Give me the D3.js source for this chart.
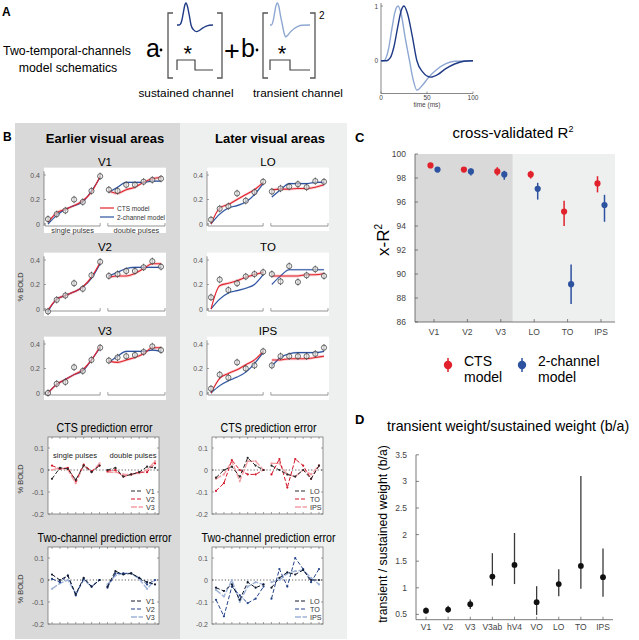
<!DOCTYPE html>
<html><head><meta charset="utf-8">
<script src="https://cdn.jsdelivr.net/npm/d3@7"></script>
<style>body{margin:0;background:#fff} svg{display:block}</style>
</head><body><svg id="fig" width="639" height="640"></svg>
<script>
// ---------------- DATA ----------------
// Panel A: impulse response functions (time in ms, normalized amplitude)
const irfSustT = [0,6,10,14,18,22,25,29,34,39,45,54,62,70,80,90,100];
const irfSustV = [0,0,0.05,0.25,0.6,0.92,1.0,0.85,0.45,0,-0.2,-0.3,-0.25,-0.15,-0.06,-0.01,0];
const irfTransT = [0,3,8,12,15,18.5,22,26,31,35,39,45,52,60,70,80,100];
const irfTransV = [0,0,0.2,0.6,0.88,1.0,0.85,0.45,0,-0.35,-0.54,-0.45,-0.3,-0.17,-0.06,-0.01,0];
const pulseT = [0,0,50,50,100];
const pulseV = [0,1,1,0,0];

// Panel B: BOLD amplitude, 7 single-pulse + 7 double-pulse conditions
const dataV1 = [0.04,0.08,0.11,0.20,0.18,0.27,0.39, 0.28,0.27,0.32,0.32,0.345,0.36,0.37];
const ctsV1  = [0.015,0.09,0.12,0.15,0.19,0.26,0.39, 0.27,0.25,0.28,0.30,0.34,0.37,0.38];
const twoV1  = [0.0,0.07,0.12,0.15,0.18,0.27,0.38, 0.26,0.30,0.34,0.34,0.34,0.35,0.35];
const dataV2 = [-0.02,0.075,0.11,0.21,0.165,0.275,0.385, 0.27,0.285,0.31,0.31,0.34,0.39,0.345];
const ctsV2  = [-0.01,0.08,0.11,0.14,0.18,0.26,0.38, 0.26,0.27,0.27,0.29,0.33,0.37,0.37];
const twoV2  = [-0.02,0.08,0.11,0.14,0.18,0.25,0.37, 0.27,0.30,0.33,0.34,0.34,0.34,0.34];
const dataV3 = [0.0,0.075,0.09,0.21,0.18,0.27,0.37, 0.265,0.29,0.30,0.31,0.335,0.38,0.35];
const ctsV3  = [0.0,0.07,0.11,0.15,0.19,0.27,0.38, 0.26,0.25,0.27,0.29,0.32,0.37,0.37];
const twoV3  = [0.0,0.07,0.11,0.15,0.18,0.27,0.37, 0.25,0.30,0.34,0.34,0.34,0.35,0.34];
const dataLO = [0.035,0.125,0.145,0.25,0.19,0.26,0.345, 0.265,0.29,0.305,0.325,0.30,0.35,0.345];
const ctsLO  = [0.0,0.13,0.16,0.20,0.24,0.28,0.34, 0.28,0.285,0.285,0.29,0.29,0.30,0.32];
const twoLO  = [0.0,0.08,0.13,0.15,0.18,0.24,0.33, 0.22,0.28,0.33,0.33,0.33,0.34,0.34];
const dataTO = [0.095,0.24,0.155,0.21,0.265,0.285,0.30, 0.285,0.225,0.35,0.22,0.275,0.325,0.27];
const ctsTO  = [0.0,0.19,0.21,0.23,0.26,0.28,0.30, 0.27,0.27,0.27,0.27,0.28,0.28,0.29];
const twoTO  = [0.0,0.08,0.13,0.15,0.17,0.20,0.28, 0.20,0.27,0.32,0.32,0.32,0.32,0.32];
const dataIPS = [0.035,0.15,0.125,0.25,0.20,0.225,0.34, 0.225,0.30,0.30,0.30,0.30,0.32,0.37];
const ctsIPS  = [0.0,0.12,0.16,0.19,0.23,0.27,0.34, 0.27,0.27,0.28,0.28,0.28,0.29,0.30];
const twoIPS  = [0.0,0.06,0.10,0.13,0.17,0.24,0.33, 0.22,0.29,0.32,0.33,0.33,0.33,0.34];

// Panel B: prediction errors
const ctsErrV1 = [-0.04,0.01,0.005,-0.045,0.02,-0.01,0.02, 0.0,0.01,-0.03,-0.02,-0.01,0.015,0.01];
const ctsErrV2 = [0.02,0.005,0.01,-0.05,0.025,-0.005,0.02, -0.005,0.0,-0.03,-0.02,-0.01,-0.01,0.03];
const ctsErrV3 = [0.0,0.01,0.0,-0.06,0.02,-0.01,0.03, -0.01,-0.01,-0.02,-0.02,-0.015,0.0,0.04];
const twoErrV1 = [0.025,0.0,0.02,-0.065,0.01,-0.03,0.0, -0.03,0.04,0.025,0.03,0.01,-0.01,-0.02];
const twoErrV2 = [0.005,-0.01,0.02,-0.07,0.005,-0.03,0.0, -0.035,0.03,0.03,0.03,0.01,-0.02,0.0];
const twoErrV3 = [-0.04,-0.015,0.0,-0.06,0.0,-0.03,0.0, -0.02,0.02,0.03,0.03,0.005,-0.04,0.0];
const ctsErrLO  = [-0.035,0.0,0.015,-0.03,0.055,0.02,0.0, 0.02,0.0,-0.02,-0.03,0.0,-0.04,0.02];
const ctsErrTO  = [-0.095,-0.06,0.045,0.0,-0.02,-0.02,0.0, -0.02,0.05,-0.08,0.05,0.02,-0.04,0.02];
const ctsErrIPS = [-0.04,-0.02,0.04,-0.05,0.04,0.04,0.0, 0.03,0.03,-0.02,-0.03,0.0,-0.02,0.02];
const twoErrLO  = [-0.035,-0.05,-0.02,-0.09,-0.01,-0.035,-0.02, -0.035,0.01,0.035,0.025,0.045,0.0,0.0];
const twoErrTO  = [-0.09,-0.165,-0.03,-0.07,-0.105,-0.085,-0.03, -0.085,0.05,-0.03,0.10,0.05,-0.01,0.05];
const twoErrIPS = [-0.045,-0.075,0.0,-0.1,-0.03,-0.01,-0.02, -0.01,0.0,0.03,0.04,0.045,0.01,-0.02];

// Panel C: cross-validated R^2
const r2Areas  = ["V1","V2","V3","LO","TO","IPS"];
const ctsR2    = [99.05,98.7,98.55,98.3,95.2,97.55];
const ctsR2Lo  = [98.85,98.5,98.2,97.95,94.0,96.8];
const ctsR2Hi  = [99.25,98.9,98.9,98.6,96.1,98.15];
const twoR2    = [98.7,98.55,98.3,97.1,89.15,95.75];
const twoR2Lo  = [98.5,98.2,97.85,96.2,87.5,94.35];
const twoR2Hi  = [98.85,98.8,98.6,97.6,90.8,96.6];
const r2Ticks  = [86,88,90,92,94,96,98,100];

// Panel D: transient / sustained weight
const weightAreas = ["V1","V2","V3","V3ab","hV4","VO","LO","TO","IPS"];
const weightMean  = [0.57,0.59,0.69,1.21,1.43,0.73,1.07,1.41,1.2];
const weightLo    = [0.51,0.53,0.60,1.04,1.07,0.49,0.84,0.98,0.83];
const weightHi    = [0.63,0.66,0.78,1.65,2.03,1.03,1.35,3.10,1.74];
const weightTicks = [0.5,1,1.5,2,2.5,3,3.5];

// ---------------- DRAWING ----------------
const FONT = "'Liberation Sans', Arial, Helvetica, sans-serif";
const RED = "#e1222c", BLUE = "#2c52a0", NAVY = "#1f3a86", LIGHTBLUE = "#8ea7d2";
const svg = d3.select("#fig");

function txt(g, x, y, s, size, o = {}) {
  const t = g.append("text").attr("x", x).attr("y", y).text(s)
    .attr("font-size", size).attr("font-family", FONT).attr("fill", o.fill || "#000");
  if (o.anchor) t.attr("text-anchor", o.anchor);
  if (o.weight) t.attr("font-weight", o.weight);
  if (o.len) t.attr("textLength", o.len).attr("lengthAdjust", "spacingAndGlyphs");
  return t;
}
function line(g, x1, y1, x2, y2, c, w, dash) {
  const l = g.append("line").attr("x1", x1).attr("y1", y1).attr("x2", x2).attr("y2", y2)
    .attr("stroke", c).attr("stroke-width", w);
  if (dash) l.attr("stroke-dasharray", dash);
  return l;
}

// ===== Panel A =====
const gA = svg.append("g");
txt(gA, 2, 16, "A", 12, {weight: "bold"});
txt(gA, 67, 55, "Two-temporal-channels", 12.3, {anchor: "middle"});
txt(gA, 68, 72, "model schematics", 12.3, {anchor: "middle"});
txt(gA, 146, 57, "a", 25);
gA.append("circle").attr("cx", 161).attr("cy", 50).attr("r", 1.4).attr("fill", "#000");
txt(gA, 224, 60, "+", 27);
txt(gA, 241, 57, "b", 25);
gA.append("circle").attr("cx", 257).attr("cy", 50).attr("r", 1.4).attr("fill", "#000");

function bracket(xl, xr) {
  const p = d3.path();
  p.moveTo(xl + 5, 13); p.lineTo(xl, 13); p.lineTo(xl, 78); p.lineTo(xl + 5, 78);
  p.moveTo(xr - 5, 13); p.lineTo(xr, 13); p.lineTo(xr, 78); p.lineTo(xr - 5, 78);
  gA.append("path").attr("d", p.toString()).attr("fill", "none").attr("stroke", "#555").attr("stroke-width", 1.3);
}
bracket(168, 222);
bracket(263, 315);
txt(gA, 319, 19, "2", 10);

function miniIRF(x0, x1, T, V, color) {
  const xs = d3.scaleLinear().domain([0, 100]).range([x0, x1]);
  const ys = d3.scaleLinear().domain([0, 1]).range([25, 3]);
  gA.append("path").attr("d", d3.line().x((d, i) => xs(T[i])).y(d => ys(d)).curve(d3.curveMonotoneX)(V))
    .attr("fill", "none").attr("stroke", color).attr("stroke-width", 1.4);
  const ps = d3.scaleLinear().domain([0, 1]).range([70, 60]);
  gA.append("path").attr("d", d3.line().x((d, i) => xs(pulseT[i])).y(d => ps(d))(pulseV))
    .attr("fill", "none").attr("stroke", "#444").attr("stroke-width", 1.2);
  txt(gA, xs(30), 61, "*", 22, {anchor: "middle"});
}
miniIRF(177, 213, irfSustT, irfSustV, NAVY);
miniIRF(270, 310, irfTransT, irfTransV, LIGHTBLUE);
txt(gA, 186, 97, "sustained channel", 11.8, {anchor: "middle"});
txt(gA, 298, 97, "transient channel", 11.8, {anchor: "middle"});

// inset IRF plot
const xI = d3.scaleLinear().domain([0, 100]).range([381, 473]);
const yI = d3.scaleLinear().domain([-0.6, 1.05]).range([93.5, 3.3]);
line(gA, 381, 3, 381, 93.5, "#555", 0.7);
line(gA, 381, 93.5, 473, 93.5, "#555", 0.7);
[0, 50, 100].forEach(t => {
  line(gA, xI(t), 93.5, xI(t), 91.5, "#555", 0.6);
  txt(gA, xI(t), 100, String(t), 6.5, {anchor: "middle", fill: "#444"});
});
[0, 1].forEach(v => {
  line(gA, 381, yI(v), 383, yI(v), "#555", 0.6);
  txt(gA, 378, yI(v) + 2.5, String(v), 6.5, {anchor: "end", fill: "#444"});
});
txt(gA, 427, 107, "time (ms)", 6.5, {anchor: "middle", fill: "#444"});
gA.append("path").attr("d", d3.line().x((d, i) => xI(irfTransT[i])).y(d => yI(d)).curve(d3.curveMonotoneX)(irfTransV))
  .attr("fill", "none").attr("stroke", LIGHTBLUE).attr("stroke-width", 1.4);
gA.append("path").attr("d", d3.line().x((d, i) => xI(irfSustT[i])).y(d => yI(d)).curve(d3.curveMonotoneX)(irfSustV))
  .attr("fill", "none").attr("stroke", NAVY).attr("stroke-width", 1.4);

// ===== Panel B =====
const gB = svg.append("g");
gB.append("rect").attr("x", 15).attr("y", 123).attr("width", 165).attr("height", 516).attr("fill", "#d9d9d9");
gB.append("rect").attr("x", 180).attr("y", 123).attr("width", 167).attr("height", 516).attr("fill", "#eef0ef");
txt(gB, 3, 141, "B", 12, {weight: "bold"});
txt(gB, 105, 143, "Earlier visual areas", 13, {anchor: "middle", weight: "bold"});
txt(gB, 270, 143, "Later visual areas", 13, {anchor: "middle", weight: "bold"});

function fitPanel(x0, y0, name, data, cts, two, first) {
  const g = gB.append("g");
  const y = d3.scaleLinear().domain([0, 0.4]).range([y0, y0 - 49]);
  const x = d3.scaleLinear().domain([0, 13]).range([x0 + 4, x0 + 117]);
  g.append("rect").attr("x", x0).attr("y", y(0.46)).attr("width", 122)
    .attr("height", y0 + (first ? 9 : 7) - y(0.46)).attr("fill", "#fff");
  txt(g, x0 + 61, y(0.4) - 9, name, 11.5, {anchor: "middle"});
  // y axis
  line(g, x0, y(0.43), x0, y0 + 2, "#666", 0.7);
  [0, 0.2, 0.4].forEach(v => {
    line(g, x0, y(v), x0 + 2, y(v), "#666", 0.6);
    txt(g, x0 - 4, y(v) + 2.5, v === 0 ? "0" : String(v), 7, {anchor: "end", fill: "#555"});
  });
  // x axis (two segments)
  [[x0 + 1, x(6)], [x(7) - 1, x0 + 121]].forEach(([a, b]) => {
    line(g, a, y0 + 2, b, y0 + 2, "#666", 0.7);
    line(g, a, y0 + 2, a, y0 - 1, "#666", 0.6);
    line(g, b, y0 + 2, b, y0 - 1, "#666", 0.6);
  });
  const seg = [d3.range(0, 7), d3.range(7, 14)];
  const band = (arr, w) => d3.area().x(i => x(i)).y0(i => y(arr[i] - w)).y1(i => y(arr[i] + w)).curve(d3.curveMonotoneX);
  const ln = arr => d3.line().x(i => x(i)).y(i => y(arr[i])).curve(d3.curveMonotoneX);
  seg.forEach(s => {
    g.append("path").attr("d", band(two, 0.008)(s)).attr("fill", BLUE).attr("opacity", 0.18);
    g.append("path").attr("d", band(cts, 0.012)(s)).attr("fill", RED).attr("opacity", 0.22);
    g.append("path").attr("d", ln(two)(s)).attr("fill", "none").attr("stroke", BLUE).attr("stroke-width", 1.1);
    g.append("path").attr("d", ln(cts)(s)).attr("fill", "none").attr("stroke", RED).attr("stroke-width", 1.1);
  });
  data.forEach((d, i) => {
    line(g, x(i), y(d - 0.03), x(i), y(d + 0.03), "#333", 0.7);
    g.append("circle").attr("cx", x(i)).attr("cy", y(d)).attr("r", 2.6)
      .attr("fill", "#e6e6e6").attr("fill-opacity", 0.6).attr("stroke", "#333").attr("stroke-width", 0.7);
  });
  if (first) {
    line(g, x0 + 56, y0 - 16, x0 + 70, y0 - 16, RED, 1.2);
    txt(g, x0 + 73, y0 - 13.5, "CTS model", 6.5, {fill: "#333"});
    line(g, x0 + 56, y0 - 7, x0 + 70, y0 - 7, BLUE, 1.2);
    txt(g, x0 + 73, y0 - 4.5, "2-channel model", 6.5, {fill: "#333"});
    txt(g, (x0 + 1 + x(6)) / 2, y0 + 8.5, "single pulses", 7.4, {anchor: "middle", fill: "#333"});
    txt(g, (x(7) - 1 + x0 + 121) / 2, y0 + 8.5, "double pulses", 7.4, {anchor: "middle", fill: "#333"});
  }
}
fitPanel(44, 224, "V1", dataV1, ctsV1, twoV1, true);
fitPanel(44, 309, "V2", dataV2, ctsV2, twoV2, false);
fitPanel(44, 393, "V3", dataV3, ctsV3, twoV3, false);
fitPanel(207, 224, "LO", dataLO, ctsLO, twoLO, false);
fitPanel(207, 309, "TO", dataTO, ctsTO, twoTO, false);
fitPanel(207, 393, "IPS", dataIPS, ctsIPS, twoIPS, false);

function boldLabel(x, y) {
  gB.append("text").attr("transform", `translate(${x},${y}) rotate(-90)`).attr("text-anchor", "middle")
    .attr("font-size", 7.5).attr("font-family", FONT).attr("fill", "#333").text("% BOLD");
}
boldLabel(23, 287);

function errPanel(x0, yTop, title, tlen, series, names, colors, dashes, widths, labels) {
  const g = gB.append("g");
  const y = d3.scaleLinear().domain([-0.2, 0.15]).range([yTop + 77, yTop]);
  const x = d3.scaleLinear().domain([0, 13]).range([x0 + 4, x0 + 107]);
  const W = 111;
  g.append("rect").attr("x", x0).attr("y", yTop).attr("width", W).attr("height", 77)
    .attr("fill", "#fff").attr("stroke", "#666").attr("stroke-width", 0.7);
  txt(g, x0 + W / 2 + 1, yTop - 5, title, 12.5, {anchor: "middle", len: tlen});
  [-0.2, -0.1, 0, 0.1].forEach(v => {
    line(g, x0, y(v), x0 + 2, y(v), "#666", 0.6);
    line(g, x0 + W, y(v), x0 + W - 2, y(v), "#666", 0.6);
    txt(g, x0 - 4, y(v) + 2.5, v === 0 ? "0" : String(v), 7, {anchor: "end", fill: "#555"});
  });
  d3.range(0, 14).forEach(i => {
    line(g, x(i), yTop, x(i), yTop + 2, "#666", 0.6);
    line(g, x(i), yTop + 77, x(i), yTop + 75, "#666", 0.6);
  });
  line(g, x0, y(0), x0 + W, y(0), "#333", 0.8, "1.2,2");
  const seg = [d3.range(0, 7), d3.range(7, 14)];
  series.slice().reverse().forEach((arr, ri) => {
    const k = series.length - 1 - ri;
    const ln = d3.line().x(i => x(i)).y(i => y(arr[i]));
    seg.forEach(s => g.append("path").attr("d", ln(s)).attr("fill", "none").attr("stroke", colors[k])
      .attr("stroke-width", widths[k]).attr("stroke-dasharray", dashes[k]));
    arr.forEach((d, i) => g.append("circle").attr("cx", x(i)).attr("cy", y(d)).attr("r", 1.1).attr("fill", colors[k]));
  });
  names.forEach((n, k) => {
    const yy = y(-0.1) - 1 + k * 8;
    line(g, x0 + 83, yy, x0 + 95, yy, colors[k], widths[k] + 0.2, dashes[k]);
    txt(g, x0 + 98, yy + 2.8, n, 7.2, {fill: "#333"});
  });
  if (labels) {
    txt(g, x0 + 27, y(0.1) + 9.5, "single pulses", 7.6, {anchor: "middle", fill: "#222"});
    txt(g, x0 + 85, y(0.1) + 9.5, "double pulses", 7.6, {anchor: "middle", fill: "#222"});
  }
}
const ctsColors = ["#2a2a2a", "#d3182a", "#f2a0a6"];
const twoColors = ["#111a2e", "#24438a", "#9fb3d8"];
const dsh = ["4,2", "4,2", "6,1.5"];
const wid = [1.0, 1.0, 1.4];
errPanel(48, 437, "CTS prediction error", 96, [ctsErrV1, ctsErrV2, ctsErrV3], ["V1", "V2", "V3"], ctsColors, dsh, wid, true);
errPanel(48, 547, "Two-channel prediction error", 134, [twoErrV1, twoErrV2, twoErrV3], ["V1", "V2", "V3"], twoColors, dsh, wid, false);
errPanel(212, 437, "CTS prediction error", 96, [ctsErrLO, ctsErrTO, ctsErrIPS], ["LO", "TO", "IPS"], ctsColors, dsh, wid, false);
errPanel(212, 547, "Two-channel prediction error", 134, [twoErrLO, twoErrTO, twoErrIPS], ["LO", "TO", "IPS"], twoColors, dsh, wid, false);
boldLabel(23, 479);
boldLabel(23, 589);

// ===== Panel C =====
const gC = svg.append("g");
txt(gC, 355, 142, "C", 13, {weight: "bold"});
const tC = txt(gC, 513, 138, "cross-validated R", 15, {anchor: "middle"});
tC.append("tspan").attr("font-size", 9).attr("dy", -6).text("2");
const xC = d3.scalePoint().domain(r2Areas).range([434, 601]);
const yC = d3.scaleLinear().domain([86, 100]).range([322, 154]);
const split = xC("V3") + 12;
gC.append("rect").attr("x", 415).attr("y", yC(100)).attr("width", split - 415).attr("height", yC(86) - yC(100)).attr("fill", "#d9d9d9");
gC.append("rect").attr("x", split).attr("y", yC(100)).attr("width", 615 - split).attr("height", yC(86) - yC(100)).attr("fill", "#eef0ef");
line(gC, 415, yC(100), 415, yC(86), "#555", 0.8);
line(gC, 415, yC(86), 615, yC(86), "#555", 0.8);
r2Ticks.forEach(v => {
  line(gC, 415, yC(v), 418, yC(v), "#555", 0.7);
  txt(gC, 406, yC(v) + 3, String(v), 8.5, {anchor: "end", fill: "#444"});
});
r2Areas.forEach(a => {
  line(gC, xC(a), yC(86), xC(a), yC(86) - 3, "#555", 0.7);
  txt(gC, xC(a), 335, a, 8.5, {anchor: "middle", fill: "#444"});
});
r2Areas.forEach((a, i) => {
  line(gC, xC(a) - 3.5, yC(ctsR2Lo[i]), xC(a) - 3.5, yC(ctsR2Hi[i]), RED, 1.5);
  gC.append("circle").attr("cx", xC(a) - 3.5).attr("cy", yC(ctsR2[i])).attr("r", 3.1).attr("fill", RED);
  line(gC, xC(a) + 3.5, yC(twoR2Lo[i]), xC(a) + 3.5, yC(twoR2Hi[i]), BLUE, 1.5);
  gC.append("circle").attr("cx", xC(a) + 3.5).attr("cy", yC(twoR2[i])).attr("r", 3.1).attr("fill", BLUE);
});
const yl = gC.append("text").attr("transform", "translate(389,240) rotate(-90)").attr("text-anchor", "middle")
  .attr("font-size", 17).attr("font-family", FONT).text("x-R");
yl.append("tspan").attr("font-size", 10).attr("dy", -7).text("2");
// legend
[[448, RED, "CTS"], [522, BLUE, "2-channel"]].forEach(([lx, c, s]) => {
  line(gC, lx, 358, lx, 372, c, 1.5);
  gC.append("circle").attr("cx", lx).attr("cy", 365).attr("r", 4.2).attr("fill", c);
  txt(gC, lx + 16, 366, s, 14);
  txt(gC, lx + 16, 382, "model", 14);
});

// ===== Panel D =====
const gD = svg.append("g");
txt(gD, 355, 424, "D", 13, {weight: "bold"});
txt(gD, 387, 431, "transient weight/sustained weight (b/a)", 14.2);
const xD = d3.scalePoint().domain(weightAreas).range([426, 603]);
const yD = d3.scaleLinear().domain([0.4, 3.5]).range([619.7, 454.8]);
line(gD, 416, yD(3.5), 416, yD(0.4), "#555", 0.8);
line(gD, 416, yD(0.4), 613, yD(0.4), "#555", 0.8);
weightTicks.forEach(v => {
  line(gD, 416, yD(v), 419, yD(v), "#555", 0.7);
  txt(gD, 407, yD(v) + 3, String(v), 8.5, {anchor: "end", fill: "#444"});
});
weightAreas.forEach((a, i) => {
  line(gD, xD(a), yD(0.4), xD(a), yD(0.4) - 3, "#555", 0.7);
  txt(gD, xD(a), 630, a, 8.5, {anchor: "middle", fill: "#444"});
  line(gD, xD(a), yD(weightLo[i]), xD(a), yD(weightHi[i]), "#3a3a3a", 1.3);
  gD.append("circle").attr("cx", xD(a)).attr("cy", yD(weightMean[i])).attr("r", 2.9).attr("fill", "#111");
});
gD.append("text").attr("transform", "translate(387,534) rotate(-90)").attr("text-anchor", "middle")
  .attr("font-size", 12.3).attr("font-family", FONT).text("transient / sustained weight (b/a)");
</script></body></html>
